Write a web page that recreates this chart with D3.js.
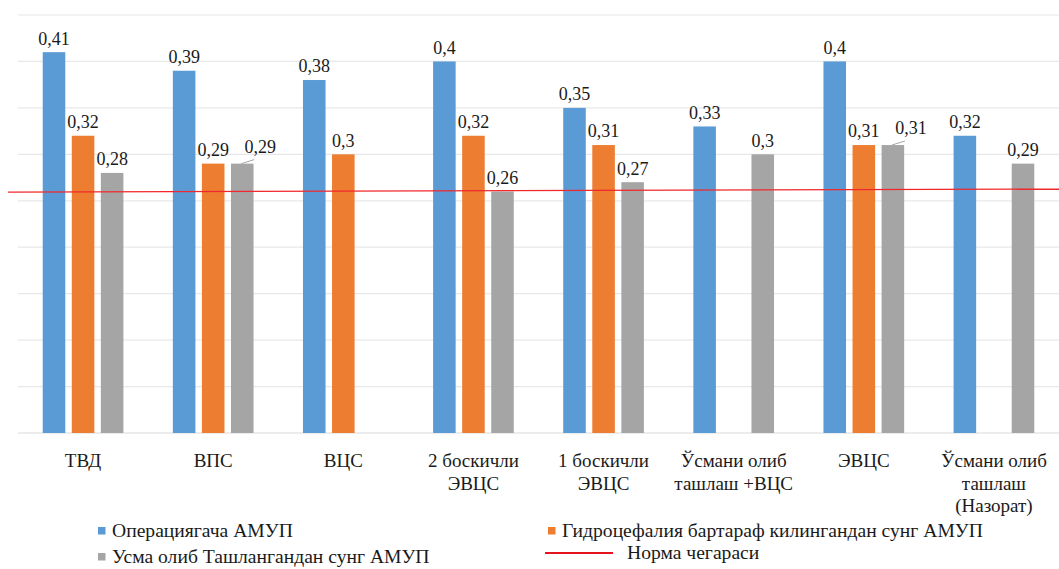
<!DOCTYPE html>
<html><head><meta charset="utf-8">
<script src="https://cdn.jsdelivr.net/npm/d3@7"></script>
<style>
html,body{margin:0;padding:0;background:#fff;}
#wrap{position:relative;width:1059px;height:569px;overflow:hidden;}
svg{display:block;position:absolute;left:0;top:0;}
.t{position:absolute;white-space:nowrap;font-family:'Liberation Serif','Times New Roman',serif;color:#1a1a1a;line-height:1;}
.c{transform:translateX(-50%);}
</style></head>
<body>
<div id="wrap"><svg id="chart" width="1059" height="569"></svg></div>
<script>
// ---- data ----
const categories = [
  ["ТВД"],
  ["ВПС"],
  ["ВЦС"],
  ["2 боскичли", "ЭВЦС"],
  ["1 боскичли", "ЭВЦС"],
  ["Ўсмани олиб", "ташлаш +ВЦС"],
  ["ЭВЦС"],
  ["Ўсмани олиб", "ташлаш", "(Назорат)"]
];
const seriesNames = [
  "Операциягача АМУП",
  "Гидроцефалия бартараф килингандан сунг АМУП",
  "Усма олиб Ташлангандан сунг АМУП"
];
const preOp   = [0.41, 0.39, 0.38, 0.40, 0.35, 0.33, 0.40, 0.32];
const afterHydro = [0.32, 0.29, 0.30, 0.32, 0.31, null, 0.31, null];
const afterTumor = [0.28, 0.29, null, 0.26, 0.27, 0.30, 0.31, 0.29];
const normName = "Норма чегараси";
const normLine = [0.2594, 0.2626]; // start / end of the (slightly tilted) norm line
const yTicks = [0, 0.05, 0.10, 0.15, 0.20, 0.25, 0.30, 0.35, 0.40, 0.45];

const colors = ["#5B9BD5", "#ED7D31", "#A5A5A5"];
const seriesValues = [preOp, afterHydro, afterTumor];

// ---- layout ----
const svg = d3.select("#chart");
const wrap = d3.select("#wrap");
const plotLeft = 18, plotRight = 1059, plotTop = 15, plotBottom = 433;

const y = d3.scaleLinear().domain([0, 0.45]).range([plotBottom, plotTop]);
const x0 = d3.scaleBand().domain(d3.range(categories.length))
  .range([plotLeft, plotRight]).paddingInner(0.38).paddingOuter(0.19);
const x1 = d3.scaleBand().domain(d3.range(3)).range([0, x0.bandwidth()]).padding(0.224).paddingOuter(0);

// text helper: baseline-positioned HTML text
function addText(x, baseline, str, size, center) {
  wrap.append("div").attr("class", center ? "t c" : "t")
    .style("left", x + "px").style("top", (baseline - 0.8375 * size) + "px")
    .style("font-size", size + "px").text(str);
}

// gridlines
svg.append("g").selectAll("line").data(yTicks).join("line")
  .attr("x1", plotLeft).attr("x2", plotRight)
  .attr("y1", d => y(d)).attr("y2", d => y(d))
  .attr("stroke", d => d === 0 ? "#d9d9d9" : "#e8e8e8").attr("stroke-width", 1.2);

// bars
const fmt = v => String(+v.toFixed(2)).replace(".", ",");
const barsData = [];
seriesValues.forEach((arr, s) => arr.forEach((v, i) => {
  if (v != null) barsData.push({s, i, v});
}));
svg.append("g").selectAll("rect").data(barsData).join("rect")
  .attr("x", d => x0(d.i) + x1(d.s))
  .attr("width", x1.bandwidth())
  .attr("y", d => y(d.v))
  .attr("height", d => y(0) - y(d.v))
  .attr("fill", d => colors[d.s]);

// value labels
barsData.forEach(d => {
  const cx = x0(d.i) + x1(d.s) + x1.bandwidth() / 2;
  const top = y(d.v);
  let tx = cx, ty = top - 7.5;
  const clash = d.s === 2 && afterHydro[d.i] != null && Math.abs(afterHydro[d.i] - d.v) < 0.005;
  if (clash) {
    tx = cx + 18; ty = top - 11;
    svg.append("line").attr("x1", cx - 1).attr("y1", top).attr("x2", cx + 12).attr("y2", top - 4)
      .attr("stroke", "#a6a6a6").attr("stroke-width", 1);
  }
  addText(tx, ty, fmt(d.v), 18, true);
});

// norm line
svg.append("path")
  .datum(normLine)
  .attr("d", d3.line().x((d, k) => k === 0 ? 8 : plotRight).y(d => y(d)))
  .attr("stroke", "#F0282D").attr("stroke-width", 1.3).attr("fill", "none");

// category labels
categories.forEach((lines, i) => {
  lines.forEach((ln, k) => addText(x0(i) + x0.bandwidth() / 2, 467 + k * 22.5, ln, 19, true));
});

// legend
const legItems = [
  {type: "rect", color: colors[0], name: seriesNames[0], x: 98, y: 531},
  {type: "rect", color: colors[1], name: seriesNames[1], x: 548, y: 531},
  {type: "rect", color: colors[2], name: seriesNames[2], x: 98, y: 557},
  {type: "line", color: "#E8141C", name: normName, x: 545, y: 553}
];
legItems.forEach(it => {
  if (it.type === "rect") {
    svg.append("rect").attr("x", it.x).attr("y", it.y - 4).attr("width", 7.5).attr("height", 7.5).attr("fill", it.color);
  } else {
    svg.append("line").attr("x1", it.x).attr("x2", it.x + 68).attr("y1", it.y).attr("y2", it.y)
      .attr("stroke", it.color).attr("stroke-width", 2);
  }
  addText(it.x + (it.type === "rect" ? 14 : 82), it.y + 6, it.name, 19.6, false);
});
</script>
</body></html>
